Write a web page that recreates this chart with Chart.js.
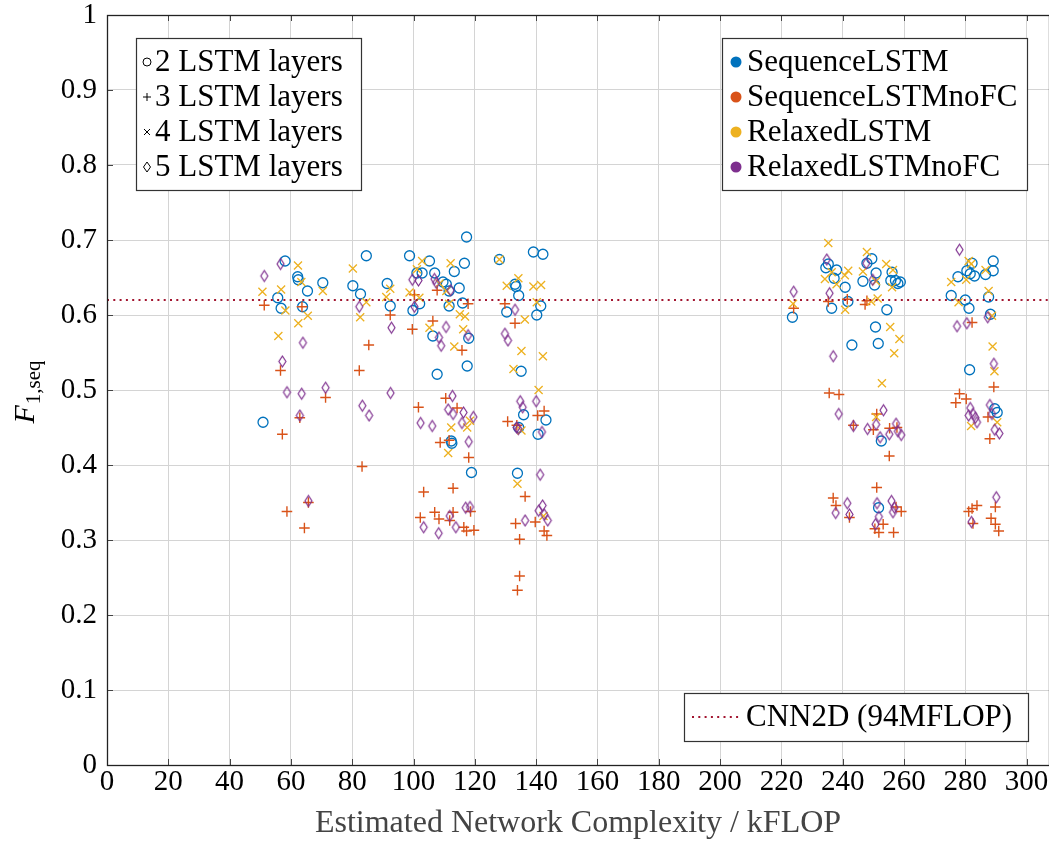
<!DOCTYPE html>
<html>
<head>
<meta charset="utf-8">
<script src="https://cdn.jsdelivr.net/npm/chart.js@4"></script>
<style>
  html, body { margin: 0; padding: 0; background: #fff; }
  #wrap { width: 1049px; height: 845px; }
</style>
</head>
<body>
<div id="wrap"><canvas id="c" width="1049" height="845"></canvas></div>
<script>
// ---- dados: [kFLOP, F1,seq] ----
var sequenceLSTM = [
  [58.1,0.672],[62.2,0.651],[62.4,0.647],[70.4,0.643],[65.4,0.632],[55.7,0.623],[56.8,0.609],[63.8,0.611],
  [84.6,0.679],[80.2,0.639],[82.7,0.628],[91.4,0.642],[92.4,0.612],[50.9,0.457],
  [117.3,0.704],[98.7,0.679],[105.2,0.672],[116.6,0.669],[113.3,0.658],[101.1,0.656],[102.8,0.656],[106.9,0.656],
  [109.6,0.644],[110.7,0.641],[111.6,0.632],[114.9,0.636],[102.0,0.615],[111.6,0.612],[116.0,0.616],[99.8,0.606],
  [106.3,0.572],[118.0,0.569],[107.7,0.521],[117.5,0.532],[128.0,0.674],[139.1,0.684],[142.2,0.681],[133.1,0.641],
  [133.4,0.638],[134.3,0.626],[130.4,0.604],[141.5,0.612],[140.2,0.600],[135.1,0.525],
  [112.3,0.432],[112.5,0.429],[118.9,0.390],[133.9,0.389],[135.9,0.467],[143.2,0.460],[140.6,0.441],[134.3,0.450],
  [223.6,0.597],[236.4,0.609],[234.5,0.663],[235.3,0.668],[238.0,0.660],[237.2,0.649],[240.8,0.637],[241.7,0.618],
  [243.0,0.560],[246.6,0.645],[249.5,0.675],[247.9,0.669],[250.9,0.656],[250.4,0.640],[250.7,0.584],[251.6,0.562],
  [254.4,0.607],[256.1,0.657],[255.7,0.646],[257.2,0.646],[258.0,0.642],[258.8,0.644],[252.6,0.432],[251.7,0.343],
  [277.6,0.651],[275.4,0.626],[280.0,0.620],[281.2,0.609],[280.5,0.659],[282.2,0.669],[283.0,0.652],[281.6,0.655],
  [286.6,0.654],[289.1,0.672],[289.1,0.659],[287.6,0.624],[288.2,0.601],[281.4,0.527],[289.6,0.475],[290.4,0.470]
];
var sequenceLSTMnoFC = [
  [51.3,0.613],[63.6,0.611],[85.4,0.560],[82.3,0.526],[56.6,0.526],[92.4,0.600],[71.3,0.490],[62.9,0.463],
  [57.2,0.441],[83.2,0.398],[65.7,0.350],[58.7,0.338],[64.4,0.316],
  [100.3,0.627],[107.7,0.633],[117.8,0.615],[106.3,0.592],[99.6,0.581],[115.8,0.553],[129.8,0.615],[133.1,0.589],
  [110.5,0.489],[101.6,0.477],[114.2,0.476],[108.7,0.430],[111.6,0.433],[118.0,0.410],[130.7,0.458],[133.7,0.453],
  [140.5,0.466],[142.6,0.472],[103.3,0.364],[112.9,0.369],[136.4,0.358],[106.9,0.337],[102.2,0.330],[108.3,0.328],
  [112.9,0.337],[111.8,0.326],[118.6,0.338],[116.4,0.317],[117.3,0.312],[119.7,0.313],[133.3,0.322],[134.6,0.301],
  [139.7,0.324],[142.6,0.312],[143.5,0.306],[134.6,0.252],[133.9,0.233],
  [224.0,0.609],[235.3,0.618],[241.5,0.621],[247.9,0.619],[247.3,0.614],[235.6,0.496],[238.8,0.494],[243.5,0.453],
  [251.1,0.468],[250.0,0.447],[255.3,0.449],[257.7,0.450],[255.2,0.412],[251.1,0.370],[236.9,0.356],[237.8,0.346],
  [242.2,0.330],[250.5,0.315],[251.8,0.310],[253.2,0.321],[256.6,0.310],[257.4,0.344],[259.1,0.338],
  [282.2,0.590],[289.3,0.504],[278.1,0.495],[280.3,0.488],[276.9,0.483],[287.4,0.464],[288.0,0.435],[283.8,0.346],
  [282.2,0.342],[281.1,0.338],[289.8,0.344],[288.4,0.329],[289.8,0.321],[290.9,0.312],[282.5,0.322]
];
var relaxedLSTM = [
  [62.3,0.666],[63.4,0.644],[56.8,0.634],[50.7,0.631],[58.2,0.606],[65.5,0.599],[62.4,0.589],[55.9,0.572],
  [70.4,0.632],[80.2,0.662],[84.6,0.617],[82.6,0.597],[91.1,0.624],[92.4,0.635],
  [102.8,0.672],[101.1,0.661],[112.1,0.669],[108.5,0.642],[98.7,0.630],[101.9,0.623],[110.7,0.632],[111.6,0.615],
  [115.1,0.601],[116.8,0.598],[105.2,0.583],[116.2,0.581],[113.3,0.558],[128.0,0.674],[130.4,0.639],[134.2,0.649],
  [139.1,0.638],[141.6,0.640],[140.2,0.617],[136.3,0.594],[135.2,0.552],[142.2,0.545],[132.6,0.528],[140.8,0.500],
  [112.3,0.450],[117.5,0.450],[118.4,0.459],[111.3,0.416],[133.9,0.375],[135.2,0.446],[142.4,0.332],
  [235.3,0.696],[234.2,0.648],[236.4,0.657],[223.8,0.615],[238.0,0.641],[241.8,0.659],[240.7,0.653],[247.9,0.684],
  [246.6,0.658],[254.2,0.668],[256.4,0.660],[256.1,0.637],[251.4,0.622],[249.3,0.618],[240.8,0.607],[255.5,0.584],
  [258.5,0.568],[256.8,0.549],[252.8,0.509],[250.9,0.645],[250.9,0.464],
  [275.4,0.644],[281.1,0.672],[281.9,0.668],[280.3,0.647],[277.8,0.617],[287.6,0.632],[288.7,0.599],[288.9,0.558],
  [289.5,0.525],[286.6,0.660],[281.9,0.452],[290.4,0.457]
];
var relaxedLSTMnoFC = [
  [56.6,0.668],[51.3,0.652],[82.3,0.611],[63.9,0.563],[57.2,0.538],[92.8,0.583],[58.7,0.497],[63.5,0.495],
  [71.3,0.503],[92.5,0.496],[83.3,0.479],[85.5,0.466],[62.9,0.466],[65.7,0.352],
  [99.6,0.647],[101.6,0.646],[106.8,0.648],[107.4,0.643],[112.1,0.633],[100.3,0.611],[110.6,0.584],[108.3,0.570],
  [109.0,0.559],[117.8,0.573],[129.8,0.575],[130.8,0.566],[133.1,0.607],
  [112.7,0.492],[111.3,0.474],[112.9,0.468],[116.3,0.470],[119.5,0.464],[115.8,0.456],[102.3,0.456],[106.1,0.452],
  [118.0,0.431],[134.8,0.485],[135.6,0.477],[140.0,0.485],[133.6,0.450],[134.2,0.448],[141.9,0.444],[141.3,0.387],
  [117.0,0.343],[118.4,0.344],[111.8,0.332],[103.3,0.317],[108.2,0.309],[113.8,0.317],[136.4,0.326],[142.1,0.346],
  [140.8,0.339],[142.6,0.334],[143.8,0.326],
  [224.0,0.631],[235.7,0.629],[234.8,0.674],[247.7,0.669],[249.8,0.647],[236.9,0.545],[238.7,0.468],[243.5,0.452],
  [248.1,0.448],[250.9,0.454],[253.3,0.473],[255.2,0.441],[257.4,0.455],[258.0,0.445],[259.1,0.440],[252.2,0.437],
  [241.5,0.349],[237.7,0.336],[242.2,0.334],[251.2,0.349],[251.8,0.331],[250.7,0.321],[255.9,0.352],[256.9,0.343],
  [256.4,0.337],
  [278.1,0.687],[277.3,0.585],[280.5,0.589],[287.3,0.597],[289.3,0.535],[281.6,0.476],[281.1,0.466],[282.5,0.468],
  [283.3,0.463],[283.8,0.457],[288.0,0.480],[288.7,0.468],[289.6,0.447],[291.1,0.442],[290.1,0.357],[282.0,0.324]
];
var cnn2dF1 = 0.62;          // linha de referência
var xRange = [0, 307.3];
var yRange = [0, 1];
var xTicks = [0, 20, 40, 60, 80, 100, 120, 140, 160, 180, 200, 220, 240, 260, 280, 300];
var yTicks = [0, 0.1, 0.2, 0.3, 0.4, 0.5, 0.6, 0.7, 0.8, 0.9, 1];
var layerLabels = ["2 LSTM layers", "3 LSTM layers", "4 LSTM layers", "5 LSTM layers"];
var modelLabels = ["SequenceLSTM", "SequenceLSTMnoFC", "RelaxedLSTM", "RelaxedLSTMnoFC"];
var refLabel = "CNN2D (94MFLOP)";

var CORES = ["#0072BD", "#D95319", "#EDB120", "#7E2F8E"];
var VERMELHO = "#A2142F";
var FONTE = "'Liberation Serif', 'Times New Roman', serif";

function pts(arr) { return arr.map(function (p) { return { x: p[0], y: p[1] }; }); }

// losango estreito (o rectRot do Chart.js é largo demais)
function losango(cor, w, h, lw) {
  var cv = document.createElement("canvas");
  cv.width = w + 4; cv.height = h + 4;
  var g = cv.getContext("2d");
  g.strokeStyle = cor; g.lineWidth = lw;
  g.beginPath();
  g.moveTo(cv.width / 2, 2); g.lineTo(cv.width - 2, cv.height / 2);
  g.lineTo(cv.width / 2, cv.height - 2); g.lineTo(2, cv.height / 2);
  g.closePath(); g.stroke();
  return cv;
}

// moldura, marcas, título do eixo y e as três legendas
var extras = {
  id: "extras",
  beforeDraw: function (c) {
    var ctx = c.ctx;
    ctx.save(); ctx.fillStyle = "#fff"; ctx.fillRect(0, 0, c.width, c.height); ctx.restore();
  },
  afterDraw: function (c) {
    var ctx = c.ctx, a = c.chartArea, xs = c.scales.x, ys = c.scales.y;
    ctx.save();
    // marcas internas
    ctx.strokeStyle = "#444"; ctx.lineWidth = 1;
    xs.ticks.forEach(function (t) {
      var px = Math.round(xs.getPixelForValue(t.value)) + 0.5;
      ctx.beginPath(); ctx.moveTo(px, a.bottom); ctx.lineTo(px, a.bottom - 6);
      ctx.moveTo(px, a.top); ctx.lineTo(px, a.top + 6); ctx.stroke();
    });
    ys.ticks.forEach(function (t) {
      var py = Math.round(ys.getPixelForValue(t.value)) + 0.5;
      ctx.beginPath(); ctx.moveTo(a.left, py); ctx.lineTo(a.left + 6, py); ctx.stroke();
    });
    // moldura
    ctx.strokeStyle = "#222"; ctx.lineWidth = 1.3;
    ctx.strokeRect(a.left + 0.5, a.top + 0.5, a.right - a.left, a.bottom - a.top);

    // título y: F_{1,seq}
    ctx.translate(25, 392); ctx.rotate(-Math.PI / 2);
    ctx.fillStyle = "#000"; ctx.textBaseline = "alphabetic";
    ctx.font = "italic 30px " + FONTE;
    var wF = ctx.measureText("F").width;
    ctx.font = "21px " + FONTE;
    var wS = ctx.measureText("1,seq").width;
    var x0 = -(wF + wS + 1) / 2;
    ctx.font = "italic 30px " + FONTE;
    ctx.fillText("F", x0, 9);
    ctx.font = "21px " + FONTE;
    ctx.fillText("1,seq", x0 + wF + 1, 15);
    ctx.setTransform(1, 0, 0, 1, 0, 0);

    function caixa(x1, y1, x2, y2) {
      ctx.fillStyle = "#fff"; ctx.fillRect(x1, y1, x2 - x1, y2 - y1);
      ctx.strokeStyle = "#333"; ctx.lineWidth = 1.2;
      ctx.strokeRect(x1 + 0.5, y1 + 0.5, x2 - x1, y2 - y1);
    }
    var linhas = [62, 97, 132, 167];
    ctx.font = "31px " + FONTE; ctx.textBaseline = "middle";

    // legenda das camadas (marcadores pretos)
    caixa(136, 38, 361, 190);
    linhas.forEach(function (y, i) {
      var mx = 147;
      ctx.strokeStyle = "#000"; ctx.lineWidth = 1;
      ctx.beginPath();
      if (i === 0) { ctx.arc(mx, y, 4, 0, Math.PI * 2); }
      else if (i === 1) { ctx.moveTo(mx - 4, y); ctx.lineTo(mx + 4, y); ctx.moveTo(mx, y - 4); ctx.lineTo(mx, y + 4); }
      else if (i === 2) { ctx.moveTo(mx - 3, y - 3); ctx.lineTo(mx + 3, y + 3); ctx.moveTo(mx + 3, y - 3); ctx.lineTo(mx - 3, y + 3); }
      else { ctx.moveTo(mx, y - 5); ctx.lineTo(mx + 3.5, y); ctx.lineTo(mx, y + 5); ctx.lineTo(mx - 3.5, y); ctx.closePath(); }
      ctx.stroke();
      ctx.fillStyle = "#000"; ctx.fillText(layerLabels[i], 155, y + 1);
    });

    // legenda dos modelos (pontos coloridos)
    caixa(722, 38, 1027, 190);
    linhas.forEach(function (y, i) {
      ctx.fillStyle = CORES[i];
      ctx.beginPath(); ctx.arc(736, y, 5.5, 0, Math.PI * 2); ctx.fill();
      ctx.fillStyle = "#000"; ctx.fillText(modelLabels[i], 747, y + 1);
    });

    // legenda da referência
    caixa(684, 693, 1028, 741);
    ctx.strokeStyle = VERMELHO; ctx.lineWidth = 2; ctx.setLineDash([2, 4.3]);
    ctx.beginPath(); ctx.moveTo(692, 717); ctx.lineTo(740, 717); ctx.stroke();
    ctx.setLineDash([]);
    ctx.fillStyle = "#000"; ctx.fillText(refLabel, 746, 718);
    ctx.restore();
  }
};

var tickFont = { family: FONTE, size: 29 };
function fixaTicks(vals) {
  return function (s) { s.ticks = vals.map(function (v) { return { value: v }; }); };
}

new Chart(document.getElementById("c"), {
  type: "scatter",
  data: {
    datasets: [
      { label: refLabel, type: "line", data: [{ x: xRange[0], y: cnn2dF1 }, { x: xRange[1], y: cnn2dF1 }],
        borderColor: VERMELHO, borderWidth: 2, borderDash: [2, 4.3], pointRadius: 0, order: 0 },
      { label: modelLabels[0], data: pts(sequenceLSTM), pointStyle: "circle", pointRadius: 5,
        borderColor: CORES[0], backgroundColor: "rgba(0,0,0,0)", borderWidth: 1.3, order: 4 },
      { label: modelLabels[1], data: pts(sequenceLSTMnoFC), pointStyle: "cross", pointRadius: 5.3,
        borderColor: CORES[1], backgroundColor: CORES[1], borderWidth: 1.4, order: 3 },
      { label: modelLabels[2], data: pts(relaxedLSTM), pointStyle: "crossRot", pointRadius: 5.7,
        borderColor: CORES[2], backgroundColor: CORES[2], borderWidth: 1.3, order: 2 },
      { label: modelLabels[3], data: pts(relaxedLSTMnoFC), pointStyle: losango(CORES[3], 7, 11, 1.2),
        pointRadius: 6, borderColor: CORES[3], backgroundColor: CORES[3], order: 1 }
    ]
  },
  options: {
    responsive: false, animation: false, events: [],
    layout: { autoPadding: false, padding: { top: 15, right: 0, left: 0, bottom: 0 } },
    plugins: { legend: { display: false }, tooltip: { enabled: false } },
    scales: {
      x: {
        type: "linear", min: xRange[0], max: xRange[1],
        afterBuildTicks: fixaTicks(xTicks),
        afterFit: function (s) { s.height = 80; s.paddingLeft = 0; s.paddingRight = 0; },
        ticks: { font: tickFont, color: "#000", padding: 0, maxRotation: 0, autoSkip: false },
        grid: { color: "#d4d4d4", lineWidth: 1, drawTicks: false },
        border: { display: false },
        title: { display: true, text: "Estimated Network Complexity / kFLOP", color: "#444",
          font: { family: FONTE, size: 32 }, padding: { top: 0, bottom: 2 } }
      },
      y: {
        min: yRange[0], max: yRange[1],
        afterBuildTicks: fixaTicks(yTicks),
        afterFit: function (s) { s.width = 107; s.paddingTop = 0; s.paddingBottom = 0; },
        ticks: { font: tickFont, color: "#000", padding: 10, autoSkip: false,
          callback: function (v) { return String(+v.toFixed(1)); } },
        grid: { color: "#d4d4d4", lineWidth: 1, drawTicks: false },
        border: { display: false }
      }
    }
  },
  plugins: [extras]
});
</script>
</body>
</html>
